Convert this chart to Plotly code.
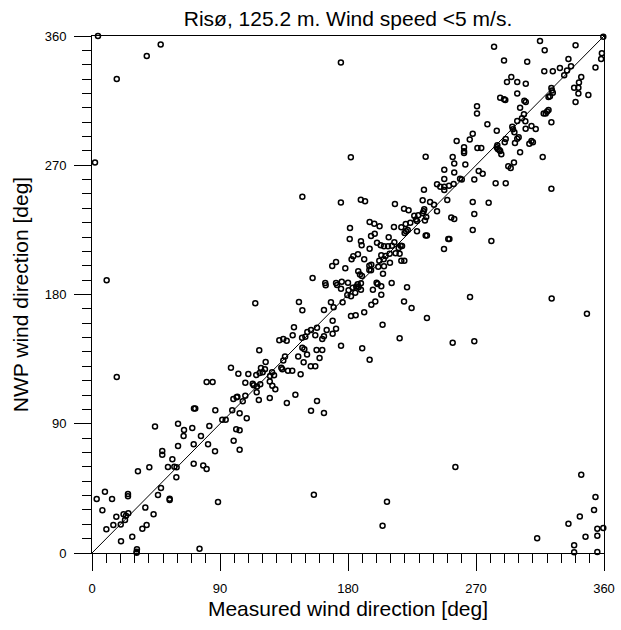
import plotly.graph_objects as go

# Measured (x) and NWP (y) wind directions [deg]
measured_deg = [
    4.2, 48.3, 38.5, 17.4, 2.1,
    175, 182, 234.6, 233.4, 147.9, 175, 189, 192, 213, 232.5, 237.7,
    282.7, 315, 318.3, 340, 359.5, 358.5, 358, 354, 289.7, 306, 335, 329, 334, 336.8, 318, 324, 332, 344, 294.8,
    291.8, 299, 305, 342.4, 339, 342, 342, 349, 340, 323, 323.4, 324, 321, 322, 299, 287, 289.7, 290.6, 304, 305,
    301, 270.7, 270.7, 321, 320, 319, 317.6, 303.7, 302.3, 299, 304.7, 323, 278, 295.5, 296, 304.9, 309, 312,
    284.6, 297, 267.7, 265.6, 256.4, 290.9, 290.2, 300, 299, 309, 307.5, 310, 297.4, 285, 284.6, 285.3, 271,
    273.7, 261.6, 261.6, 261.6, 287, 287.8, 286.4, 301, 253.6, 254.7, 262.5, 316.9, 296.7, 292.7, 294.4, 247.7,
    271.9, 274.7, 254.7, 247.7, 258.8, 260, 268.8, 242.6, 244.9, 247.7, 251, 254.3, 247.7, 283.8, 290.9, 323,
    249.8, 267.7, 278.9,
    240.5, 242.6, 268.8, 252.6, 254.7, 267.7, 250.5, 251.3, 280.8, 247.5, 265.8, 323.2, 348, 253.6, 268.8,
    255.5, 344, 354, 353, 343, 335, 355.3, 359.5, 355.3, 347, 313, 339, 339, 355.3,
    125, 126.8, 128.9, 125, 137, 143, 154, 158.2, 163.1, 156, 207.4, 204.3, 117.3,
    17.4, 80.6, 84.8, 107.8, 113, 113.7, 116, 118.3, 107.8, 115.8, 99.4, 101.7, 102.2, 106, 71.7, 72.6, 86.7,
    98.6, 103.8, 108.8, 91.6, 94, 60.5, 44.3, 82.5, 101.4, 103.8, 70.5, 64.7, 64.4, 76.6, 99.6, 71.5, 81.6,
    60.5, 103.8, 49.4, 49.4, 86.5, 56.5, 53.4, 57.9, 59.5, 40.3, 71.5, 78.2, 80.6, 32.3, 59.3, 48.5, 46.4,
    54.6, 54.6, 88.6, 9.1, 3.3, 14.1, 25.3, 25.3, 7.3, 37.5, 43.3, 17.1, 22.2, 23.9, 25.5, 23.2, 20.2, 15,
    10.1, 38.4, 35.4, 28.3, 20.4, 31.6, 31.4, 31.4, 75.6,
    10.3, 114.8, 117.6, 97.7, 102.9, 109.9, 115.5, 117.9,
    219.4, 222.6, 226.6, 229.4, 232.5, 233.6, 233.2, 228.5, 234.1, 235, 227.8, 195.2, 198.5, 202.2, 212.3,
    217.5, 220.6, 223.8, 181.4, 181.2, 196.2, 198.8, 208.6, 219.8, 220.8, 222, 228.5, 234.6, 235.5, 189.1,
    189.6, 200.4, 203, 205.3, 208.1, 210.9, 212.6, 215.6, 217, 218, 195.2, 213.5, 216.3, 183.7, 187, 203.4,
    206.4, 209.3, 182.5, 191.4, 202, 205.1, 217.5, 219.6, 209.5, 195, 196.4, 171.6, 168.9, 178.1, 201.3,
    205.3, 187.2, 188.4, 189.8, 195, 196.2, 204.6, 155.1, 164, 164.3, 171.6, 172.3, 175.6, 180, 186.8, 189.1,
    187.5, 200.1, 200.8, 203.4, 210.7, 175.1, 180.4, 183.3, 185.8, 189.1, 197.5, 221.5, 179.5, 182.1, 185.1,
    203.4, 145.5, 147.9, 168, 176.2, 169.9, 163.1, 196.4, 199.2, 219.4, 224.7, 191.4, 182.1, 185.4, 235.5,
    204.3, 142, 158.2, 154, 151.4, 169.2, 171.6, 165, 169.2, 163.1, 161.9, 157, 147.7, 150, 141.1, 131.7,
    134.5, 136.9, 216.3, 175.1, 190, 147.9, 149.3, 157.9, 161.9, 151.2, 135.7, 134.5, 122.1, 145, 160,
    148.8, 195.2, 153.8, 157, 133.1, 133.8, 137.8, 140.8, 118.8, 121.6, 120, 126.6, 128, 125.2, 146.7,
]

nwp_deg = [
    360, 354, 346, 330, 272,
    341.6, 275.5, 276, 253, 248, 244, 246, 245, 243, 245.6, 244.4,
    352.5, 356.5, 350, 353.5, 359.5, 348, 344, 338, 343, 342, 344, 337.7, 336, 339, 335.4, 335.4, 332.6, 331.4, 331.4,
    328, 328, 326.8, 327.7, 324, 324, 320, 319, 314, 323.8, 322, 320.5, 317.5, 318, 320, 317, 316, 315.4, 315, 314,
    310, 311, 306, 308.5, 307.5, 306, 306, 305.5, 302.7, 300.8, 300.6, 300, 298.5, 296.8, 295, 295.4, 297.3, 295.2,
    294, 292.9, 292, 288, 286.9, 288.3, 286, 289.5, 288.5, 286.9, 285, 286, 285.5, 284, 282.5, 281.3, 282,
    282, 282.5, 279.7, 278.5, 280, 277.6, 280.6, 279, 275.7, 271.3, 270.6, 275.7, 272, 269.3, 268, 266.9,
    266, 264, 265, 260.4, 260.6, 260, 260, 256.7, 255, 255, 255.7, 257, 252.7, 257.4, 257.4, 253.7,
    245.8, 244.4, 243.9,
    242.5, 238, 236, 233.7, 232.6, 225, 218.6, 218.6, 217.2, 211.7, 178.3, 177.3, 166.6, 146.4, 147.4,
    59.9, 54.5, 39, 30, 25.5, 20.4, 16.9, 17.4, 12, 11.4, 10.2, 5.4, 0.5, 0.7,
    119.5, 116.5, 114, 108, 104.4, 110.2, 99, 105.8, 97.5, 40.6, 35.7, 19, 106.5,
    122.5, 119, 119, 118.6, 117.9, 116.8, 116, 117.5, 109.5, 111.9, 107.2, 108.4, 108.8, 105.6, 100.7, 100.7, 99.4,
    99.4, 97.3, 93.8, 92.8, 92.8, 90, 88, 88.4, 86.1, 85.4, 87, 85.6, 81.5, 81.5, 78.2, 75.7, 75.7,
    74.5, 71.9, 71, 68.4, 70.8, 65.2, 59.9, 60.1, 59.7, 59.7, 62.2, 61, 58.5, 56.9, 52.7, 45.3, 40.4,
    37.8, 36.9, 35.5, 42.7, 37.6, 37.6, 41.1, 39.5, 29.7, 31.6, 27, 25.3, 27, 26, 27.6, 23, 19.8, 19.5,
    16.5, 19.5, 16.9, 11.4, 8.1, 2.6, 0.9, 0.2, 3,
    189.9, 173.9, 141.1, 129, 124.8, 124.6, 123.9, 125.3,
    239.7, 238.6, 234.9, 235.1, 236.5, 239.3, 237.9, 231.2, 231.6, 233.9, 232.3, 230.5, 229.3, 227.5, 227,
    226.8, 229.1, 230, 226.3, 218.6, 220.7, 222.3, 219.8, 222.8, 224, 224.9, 224, 221, 221, 217,
    214.3, 216, 214.3, 213.6, 213.6, 214, 216.3, 212.4, 214, 213.8, 211.9, 208.7, 208.4, 206.6, 208, 207.3,
    206.8, 208.4, 204.5, 204.5, 203.5, 204.5, 203.5, 203.5, 202.1, 200, 200.7, 202.6, 199.8, 198.2, 199.4,
    199.6, 196.2, 194, 192.9, 197, 196.8, 194.5, 191.5, 188, 186.4, 188, 186.6, 188.9, 188.2, 187.1, 187.8,
    185.2, 188.2, 187.3, 185.7, 188, 184, 182.9, 184.7, 185.5, 183.3, 183.3, 185, 179.6, 178.7, 181.2,
    179.9, 174.8, 169, 174.6, 174.6, 171.1, 169.2, 172.9, 175.2, 175.2, 170.6, 167.6, 165, 165.5, 163.6,
    159, 157.2, 156.9, 155.3, 153.9, 161.7, 156.2, 155.3, 152.7, 150.9, 149, 151.6, 149.9, 150.6, 151.6, 148.1,
    149, 147.8, 149.5, 144.3, 142.5, 143, 141.8, 141.3, 141.3, 138.3, 136.9, 134.1, 133, 136.9, 135.8,
    132.8, 134.6, 130, 130, 129, 127.9, 126.9, 126.9, 128.8, 127.9, 125.8, 125.8, 123.7, 123.2, 124.4,
]

diag = [0, 360]
tick_vals = [0, 90, 180, 270, 360]
tick_text = ["0", "90", "180", "270", "360"]

FONT = "Liberation Sans, Arial, sans-serif"

fig = go.Figure()
fig.add_trace(go.Scatter(x=diag, y=diag, mode="lines",
                         line=dict(color="black", width=1), hoverinfo="skip", showlegend=False))
fig.add_trace(go.Scatter(x=measured_deg, y=nwp_deg, mode="markers", cliponaxis=False,
                         marker=dict(symbol="circle-open", size=5, color="black", line=dict(width=1.5)),
                         showlegend=False))

axis_common = dict(
    range=[0, 360], tickvals=tick_vals, ticktext=tick_text,
    ticks="outside", ticklen=17, tickwidth=1, tickcolor="black",
    showline=True, linecolor="black", linewidth=1, mirror=True,
    showgrid=False, zeroline=False, automargin=False,
    tickfont=dict(family=FONT, size=13, color="black"),
    minor=dict(dtick=10, tick0=0, ticks="outside", ticklen=9, tickwidth=1, tickcolor="black", showgrid=False),
)

fig.update_layout(
    width=621, height=630,
    margin=dict(l=92, r=17, t=36, b=77, autoexpand=False),
    paper_bgcolor="white", plot_bgcolor="white",
    font=dict(family=FONT, color="black"),
    title=dict(text="Risø, 125.2 m. Wind speed &lt;5 m/s.", x=0.5, xref="paper",
               y=1 - 19 / 630, yref="container", yanchor="middle", xanchor="center",
               automargin=False,
               font=dict(family=FONT, size=21, color="black")),
    xaxis=dict(**axis_common, ticklabelstandoff=6,
               title=dict(text="Measured wind direction [deg]", font=dict(family=FONT, size=21), standoff=6)),
    yaxis=dict(**axis_common, ticklabelstandoff=5,
               title=dict(text="NWP wind direction [deg]", font=dict(family=FONT, size=21), standoff=10)),
)

fig.write_html("out.html",
               config={"displayModeBar": False},
               post_script="document.body.style.margin='0';document.body.style.padding='0';")
